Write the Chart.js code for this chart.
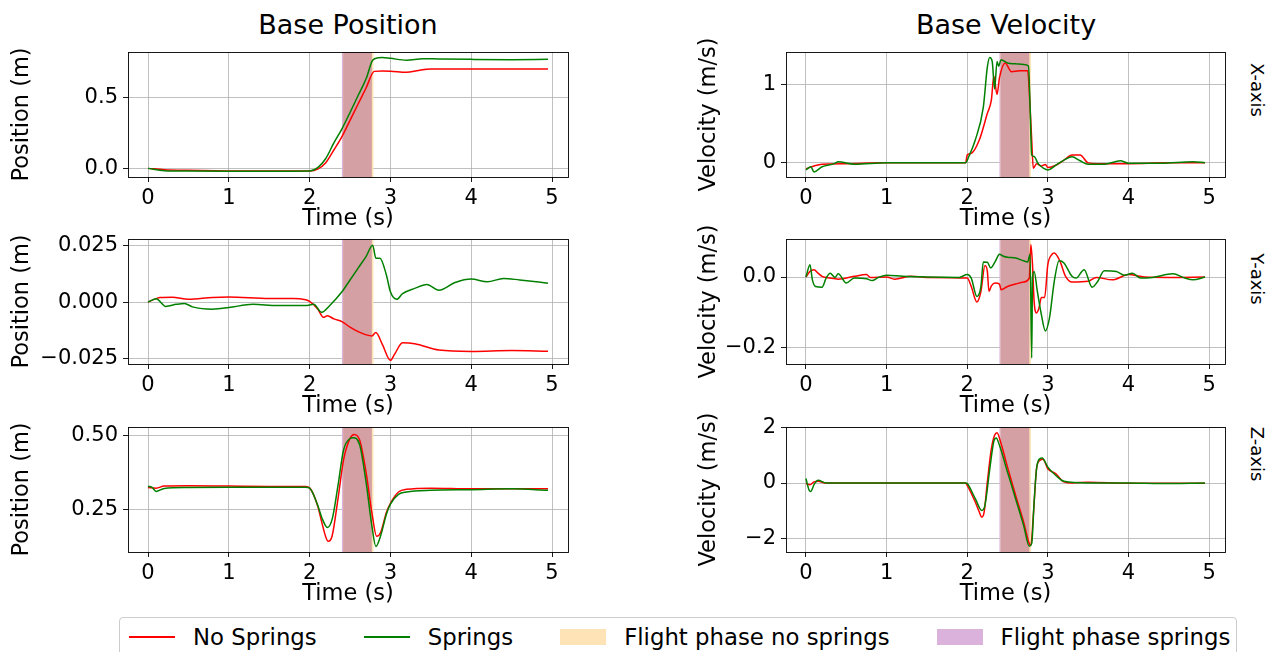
<!DOCTYPE html>
<html>
<head>
<meta charset="utf-8">
<script src="https://cdn.jsdelivr.net/npm/chart.js@4.4.1/dist/chart.umd.min.js"></script>
<style>
  html, body { margin: 0; padding: 0; background: #fff; }
  #fig { position: relative; width: 1274px; height: 652px; overflow: hidden; background: #fff;
         font-family: 'DejaVu Sans', sans-serif; color: #000; }
  .pane { position: absolute; }
  .title { position: absolute; font-size: 27px; transform: translate(-50%, -50%); white-space: nowrap; }
  .rowlab { position: absolute; font-size: 18px; white-space: nowrap; transform: translate(-50%, -50%) rotate(90deg); }
  #legend { position: absolute; left: 119px; top: 617px; width: 1118px; height: 48px; box-sizing: border-box;
            border: 1px solid #cccccc; border-radius: 4px; background: rgba(255,255,255,0.8);
            display: flex; align-items: flex-start; padding: 5px 0 0 9px; font-size: 22.8px; }
  .item { display: flex; align-items: center; height: 28px; margin-right: 47px; white-space: nowrap; }
  .item:last-child { margin-right: 0; }
  .hline { width: 46px; height: 1.5px; margin-right: 18px; }
  .patch { width: 46px; height: 16px; margin-right: 18px; }
</style>
</head>
<body>
<div id="fig">
  <div class="title" style="left:348px; top:24px;">Base Position</div>
  <div class="title" style="left:1006px; top:24px;">Base Velocity</div>
  <div class="rowlab" style="left:1257px; top:90px;">X-axis</div>
  <div class="rowlab" style="left:1257px; top:279px;">Y-axis</div>
  <div class="rowlab" style="left:1257px; top:454px;">Z-axis</div>

  <div class="pane" style="left:0px; top:34px;"><canvas id="posX" width="580" height="199"></canvas></div>
  <div class="pane" style="left:0px; top:221px;"><canvas id="posY" width="580" height="199"></canvas></div>
  <div class="pane" style="left:0px; top:409px;"><canvas id="posZ" width="580" height="199"></canvas></div>
  <div class="pane" style="left:690px; top:34px;"><canvas id="velX" width="550" height="199"></canvas></div>
  <div class="pane" style="left:690px; top:221px;"><canvas id="velY" width="550" height="199"></canvas></div>
  <div class="pane" style="left:690px; top:409px;"><canvas id="velZ" width="550" height="199"></canvas></div>

  <div id="legend">
    <div class="item"><span class="hline" style="background:#ff0000"></span>No Springs</div>
    <div class="item"><span class="hline" style="background:#008000"></span>Springs</div>
    <div class="item"><span class="patch" style="background:#fde3b5"></span>Flight phase no springs</div>
    <div class="item"><span class="patch" style="background:#dab2db"></span>Flight phase springs</div>
  </div>
</div>

<script>
// ─── 資料 ──────────────────────────────────────────────────────
const timeTicks = [0, 1, 2, 3, 4, 5];
const timeRange = [-0.2475, 5.1975];

const flightNoSprings = [2.415, 2.79];
const flightSprings = [2.40, 2.77];

// base position X
const tPosXRed = [0, 0.2, 0.5, 1.0, 1.5, 2.0, 2.1, 2.2, 2.3, 2.4, 2.5, 2.6, 2.7, 2.8, 2.9, 3.0, 3.2, 3.35, 3.5, 4.0, 4.5, 4.95];
const posXRed = [0, -0.009, -0.014, -0.018, -0.019, -0.018, -0.005, 0.04, 0.13, 0.225, 0.34, 0.455, 0.57, 0.686, 0.688, 0.687, 0.679, 0.693, 0.702, 0.703, 0.702, 0.703];
const tPosXGreen = [0, 0.2, 0.5, 1.0, 1.5, 2.0, 2.1, 2.2, 2.3, 2.4, 2.5, 2.6, 2.7, 2.78, 2.85, 2.9, 3.0, 3.2, 3.4, 3.6, 4.0, 4.5, 4.95];
const posXGreen = [0, -0.016, -0.019, -0.02, -0.02, -0.018, 0.005, 0.07, 0.18, 0.28, 0.395, 0.515, 0.635, 0.765, 0.782, 0.784, 0.778, 0.765, 0.776, 0.774, 0.771, 0.769, 0.771];

// base position Y
const tPosYRed = [0, 0.1, 0.15, 0.3, 0.5, 0.8, 1.0, 1.5, 1.8, 1.95, 2.0, 2.1, 2.17, 2.22, 2.3, 2.4, 2.5, 2.6, 2.7, 2.77, 2.82, 2.9, 3.0, 3.05, 3.15, 3.3, 3.6, 4.0, 4.5, 4.95];
const posYRed = [0, 0.0015, 0.002, 0.0021, 0.0012, 0.002, 0.0022, 0.0016, 0.0016, 0.001, 0.0003, -0.003, -0.0067, -0.006, -0.0074, -0.0086, -0.011, -0.013, -0.0144, -0.0149, -0.0134, -0.0186, -0.0256, -0.023, -0.0179, -0.0183, -0.0211, -0.0217, -0.0213, -0.0216];
const tPosYGreen = [0, 0.07, 0.1, 0.22, 0.35, 0.45, 0.55, 0.8, 1.0, 1.3, 1.6, 1.95, 2.05, 2.15, 2.25, 2.4, 2.5, 2.6, 2.7, 2.78, 2.82, 2.87, 2.95, 3.0, 3.08, 3.15, 3.3, 3.45, 3.6, 3.8, 4.0, 4.2, 4.4, 4.6, 4.95];
const posYGreen = [0, 0.0012, 0.0015, -0.0019, -0.001, -0.0006, -0.0021, -0.0031, -0.0024, -0.001, -0.0015, -0.0015, -0.001, -0.0045, -0.0015, 0.0045, 0.0097, 0.0149, 0.0201, 0.025, 0.0193, 0.0193, 0.0119, 0.0045, 0.0012, 0.0037, 0.006, 0.0077, 0.0052, 0.0086, 0.0101, 0.0089, 0.0104, 0.0097, 0.0083];

// base position Z
const tPosZRed = [0, 0.1, 0.2, 0.5, 1.0, 1.5, 1.95, 2.0, 2.1, 2.15, 2.2, 2.23, 2.28, 2.35, 2.42, 2.5, 2.55, 2.62, 2.7, 2.77, 2.83, 2.88, 2.95, 3.0, 3.1, 3.2, 3.5, 4.0, 4.95];
const posZRed = [0.323, 0.321, 0.328, 0.329, 0.328, 0.327, 0.327, 0.322, 0.261, 0.206, 0.156, 0.141, 0.161, 0.283, 0.417, 0.489, 0.503, 0.483, 0.372, 0.239, 0.158, 0.172, 0.239, 0.27, 0.308, 0.317, 0.321, 0.319, 0.319];
const tPosZGreen = [0, 0.05, 0.1, 0.2, 0.5, 1.0, 1.95, 2.0, 2.1, 2.15, 2.22, 2.28, 2.35, 2.42, 2.5, 2.54, 2.62, 2.7, 2.77, 2.82, 2.88, 2.95, 3.0, 3.1, 3.2, 3.5, 4.0, 4.5, 4.95];
const posZGreen = [0.327, 0.324, 0.31, 0.32, 0.323, 0.324, 0.324, 0.321, 0.263, 0.222, 0.188, 0.217, 0.328, 0.45, 0.489, 0.492, 0.467, 0.339, 0.194, 0.124, 0.161, 0.233, 0.267, 0.3, 0.308, 0.314, 0.316, 0.319, 0.314];

// base velocity X
const tVelXRed = [0, 0.1, 0.2, 0.5, 1.0, 1.5, 1.98, 2.0, 2.05, 2.15, 2.25, 2.3, 2.33, 2.37, 2.4, 2.47, 2.55, 2.65, 2.75, 2.78, 2.8, 2.82, 2.86, 2.92, 2.97, 3.0, 3.1, 3.2, 3.3, 3.4, 3.5, 3.6, 4.0, 4.5, 4.95];
const velXRed = [-0.077, -0.04, -0.017, -0.01, 0, 0, 0, 0.1, 0.12, 0.29, 0.63, 0.8, 1.1, 0.87, 1.08, 1.27, 1.16, 1.17, 1.17, 0.71, 0.29, -0.07, -0.01, -0.04, -0.02, -0.06, -0.03, 0.034, 0.1, 0.1, 0, -0.01, -0.01, 0, 0];
const tVelXGreen = [0, 0.06, 0.1, 0.2, 0.35, 0.4, 0.6, 1.0, 1.98, 2.02, 2.1, 2.2, 2.25, 2.28, 2.31, 2.34, 2.37, 2.39, 2.42, 2.5, 2.6, 2.7, 2.76, 2.78, 2.8, 2.83, 2.88, 2.95, 3.0, 3.1, 3.2, 3.3, 3.4, 3.5, 3.7, 3.9, 4.0, 4.4, 4.8, 4.95];
const velXGreen = [-0.09, -0.05, -0.115, -0.05, -0.01, 0.013, -0.017, 0, 0, 0.08, 0.29, 0.71, 1.22, 1.34, 1.29, 0.94, 1.29, 1.23, 1.31, 1.27, 1.26, 1.25, 1.23, 0.71, 0.1, 0.08, -0.01, -0.07, -0.09, -0.03, 0.034, 0.077, 0.026, -0.017, -0.017, 0.026, -0.005, -0.005, 0.015, 0];

// base velocity Y
const tVelYRed = [0, 0.05, 0.1, 0.15, 0.2, 0.3, 0.4, 0.6, 0.75, 0.8, 1.0, 1.1, 1.3, 1.5, 2.0, 2.05, 2.12, 2.17, 2.22, 2.25, 2.27, 2.3, 2.35, 2.4, 2.42, 2.5, 2.6, 2.7, 2.77, 2.79, 2.81, 2.83, 2.86, 2.89, 2.92, 2.96, 3.0, 3.05, 3.08, 3.15, 3.22, 3.3, 3.5, 3.6, 3.8, 4.0, 4.2, 4.5, 4.95];
const velYRed = [0, 0.016, 0.021, 0.011, 0.002, -0.003, -0.006, 0.002, 0.007, -0.001, 0, -0.006, 0.002, -0.001, -0.003, -0.027, -0.071, -0.041, 0.033, 0.016, -0.041, -0.025, -0.017, -0.02, -0.036, -0.027, -0.02, -0.014, -0.003, 0.092, 0.035, -0.069, -0.102, -0.088, -0.058, -0.058, 0.035, 0.064, 0.068, 0.045, 0.002, -0.014, -0.012, -0.001, -0.008, 0.007, 0, -0.001, 0];
const tVelYGreen = [0, 0.05, 0.08, 0.12, 0.2, 0.25, 0.3, 0.36, 0.4, 0.5, 0.6, 0.75, 0.82, 0.9, 1.0, 1.2, 1.5, 1.9, 2.0, 2.05, 2.12, 2.17, 2.2, 2.25, 2.29, 2.35, 2.4, 2.45, 2.5, 2.6, 2.7, 2.75, 2.78, 2.8, 2.81, 2.83, 2.87, 2.92, 2.97, 3.02, 3.08, 3.14, 3.2, 3.3, 3.35, 3.45, 3.55, 3.62, 3.7, 3.85, 3.95, 4.05, 4.15, 4.3, 4.55, 4.7, 4.8, 4.95];
const velYGreen = [0, 0.035, -0.008, -0.027, -0.029, -0.003, 0.011, -0.001, 0.009, -0.017, -0.003, -0.005, -0.01, -0.001, 0.005, 0.002, 0, -0.001, 0.007, -0.003, -0.055, -0.027, 0.043, 0.042, 0.026, 0.045, 0.065, 0.059, 0.056, 0.054, 0.046, 0.043, 0.065, -0.23, -0.003, 0.016, -0.041, -0.107, -0.153, -0.117, -0.012, 0.046, 0.04, 0.002, -0.003, 0.021, -0.029, -0.012, 0.018, 0.016, 0.005, 0.011, -0.003, -0.001, 0.009, -0.003, -0.008, 0];

// base velocity Z
const tVelZRed = [0, 0.05, 0.1, 0.15, 0.25, 1.98, 2.0, 2.1, 2.15, 2.18, 2.21, 2.25, 2.3, 2.34, 2.37, 2.42, 2.5, 2.6, 2.7, 2.77, 2.79, 2.82, 2.86, 2.9, 2.94, 3.0, 3.1, 3.2, 3.3, 3.5, 4.0, 4.95];
const velZRed = [-0.02, -0.06, 0.04, 0.06, 0, 0, -0.08, -0.68, -1.04, -1.22, -1.04, 0.04, 1.23, 1.71, 1.8, 1.41, 0.57, -0.44, -1.4, -2.17, -2.23, -1.16, 0.51, 0.81, 0.85, 0.51, 0.33, 0.04, 0, 0.03, -0.01, -0.01];
const tVelZGreen = [0, 0.04, 0.06, 0.1, 0.15, 0.25, 1.98, 2.0, 2.1, 2.18, 2.22, 2.28, 2.33, 2.36, 2.4, 2.5, 2.6, 2.7, 2.77, 2.8, 2.83, 2.86, 2.9, 2.93, 3.0, 3.1, 3.2, 3.5, 4.0, 4.4, 4.95];
const velZGreen = [0.16, -0.26, -0.3, -0.06, 0.1, 0, 0, -0.02, -0.56, -0.98, -0.8, 0.51, 1.49, 1.61, 1.35, 0.39, -0.56, -1.52, -2.26, -2.17, -0.68, 0.51, 0.87, 0.9, 0.57, 0.27, 0.06, 0, 0, -0.02, 0];

// y 軸刻度
const posXTicks = [0, 0.5], posXTickLabels = ['0.0', '0.5'];
const posYTicks = [-0.025, 0, 0.025], posYTickLabels = ['\u22120.025', '0.000', '0.025'];
const posZTicks = [0.25, 0.5], posZTickLabels = ['0.25', '0.50'];
const velXTicks = [0, 1], velXTickLabels = ['0', '1'];
const velYTicks = [-0.2, 0], velYTickLabels = ['\u22120.2', '0.0'];
const velZTicks = [-2, 0, 2], velZTickLabels = ['\u22122', '0', '2'];

// ─── 外觀 ──────────────────────────────────────────────────────────
Chart.defaults.font.family = "'DejaVu Sans', sans-serif";
Chart.defaults.color = '#000';

const GRID = '#b0b0b0';

const zip = (ts, vs) => ts.map((t, i) => ({ x: t, y: vs[i] }));

// 飛行階段陰影
const spanPlugin = {
  id: 'flightSpans',
  beforeDatasetsDraw(chart) {
    const { ctx, chartArea: a, scales: { x } } = chart;
    const px = v => x.getPixelForValue(v);
    const rect = (s, e, c) => { ctx.fillStyle = c; ctx.fillRect(px(s), a.top, px(e) - px(s), a.bottom - a.top); };
    ctx.save();
    rect(flightSprings[0], flightSprings[1], '#dab2db');
    rect(flightNoSprings[0], flightNoSprings[1], '#fde3b5');
    rect(Math.max(flightSprings[0], flightNoSprings[0]), Math.min(flightSprings[1], flightNoSprings[1]), '#d4a0a3');
    ctx.restore();
  }
};

// 外框
const framePlugin = {
  id: 'frame',
  afterDatasetsDraw(chart) {
    const { ctx, chartArea: a } = chart;
    ctx.save();
    ctx.strokeStyle = '#000';
    ctx.lineWidth = 0.9;
    ctx.strokeRect(Math.round(a.left) + 0.5, Math.round(a.top) + 0.5, Math.round(a.right - a.left), Math.round(a.bottom - a.top));
    ctx.restore();
  }
};

function panel(id, red, green, yRange, yTicks, yLabels, yTitle, yAxisWidth, titlePad, rightPad) {
  return new Chart(document.getElementById(id), {
    type: 'line',
    data: {
      datasets: [
        { label: 'No Springs', data: red, borderColor: '#ff0000', borderWidth: 1.5, pointRadius: 0,
          cubicInterpolationMode: 'monotone', order: 1 },
        { label: 'Springs', data: green, borderColor: '#008000', borderWidth: 1.5, pointRadius: 0,
          cubicInterpolationMode: 'monotone', order: 0 },
      ],
    },
    options: {
      responsive: false,
      animation: false,
      devicePixelRatio: 1,
      layout: { padding: { top: 18, right: rightPad, bottom: 0, left: 0 } },
      plugins: { legend: { display: false }, tooltip: { enabled: false } },
      scales: {
        x: {
          type: 'linear',
          min: timeRange[0],
          max: timeRange[1],
          afterBuildTicks: s => { s.ticks = timeTicks.map(v => ({ value: v })); },
          afterFit: s => { s.height = 56; },
          ticks: { autoSkip: false, maxRotation: 0, padding: 6, font: { size: 21, lineHeight: 1 },
                   callback: v => String(v) },
          grid: { color: GRID, lineWidth: 0.8, tickLength: 5, tickColor: '#000', tickWidth: 0.9 },
          border: { display: false },
          title: { display: true, text: 'Time (s)', font: { size: 22.5 }, padding: { top: 0, bottom: 0 } },
        },
        y: {
          type: 'linear',
          min: yRange[0],
          max: yRange[1],
          afterBuildTicks: s => { s.ticks = yTicks.map(v => ({ value: v })); },
          afterFit: s => { s.width = yAxisWidth; },
          ticks: { autoSkip: false, padding: 5, font: { size: 21 }, callback: (v, i) => yLabels[i] },
          grid: { color: GRID, lineWidth: 0.8, tickLength: 5, tickColor: '#000', tickWidth: 0.9 },
          border: { display: false },
          title: { display: true, text: yTitle, font: { size: 22.5 }, padding: { top: titlePad, bottom: 0 } },
        },
      },
    },
    plugins: [spanPlugin, framePlugin],
  });
}

panel('posX', zip(tPosXRed, posXRed), zip(tPosXGreen, posXGreen), [-0.061, 0.823], posXTicks, posXTickLabels, 'Position (m)', 128, 8.5, 12);
panel('posY', zip(tPosYRed, posYRed), zip(tPosYGreen, posYGreen), [-0.0272, 0.0277], posYTicks, posYTickLabels, 'Position (m)', 128, 8.5, 12);
panel('posZ', zip(tPosZRed, posZRed), zip(tPosZGreen, posZGreen), [0.105, 0.528], posZTicks, posZTickLabels, 'Position (m)', 128, 8.5, 12);
panel('velX', zip(tVelXRed, velXRed), zip(tVelXGreen, velXGreen), [-0.18, 1.41], velXTicks, velXTickLabels, 'Velocity (m/s)', 96, 5.5, 15);
panel('velY', zip(tVelYRed, velYRed), zip(tVelYGreen, velYGreen), [-0.247, 0.108], velYTicks, velYTickLabels, 'Velocity (m/s)', 96, 5.5, 15);
panel('velZ', zip(tVelZRed, velZRed), zip(tVelZGreen, velZGreen), [-2.47, 2.006], velZTicks, velZTickLabels, 'Velocity (m/s)', 96, 5.5, 15);
</script>
</body>
</html>
